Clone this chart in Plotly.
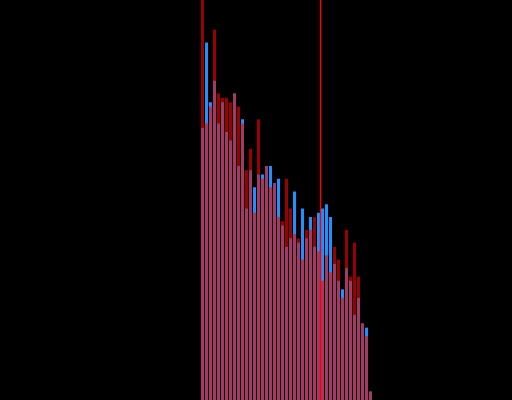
import plotly.graph_objects as go

bins = list(range(43))
blue_counts = [64, 84, 70, 75, 65, 70, 63, 61, 72, 55, 66, 45, 54, 50, 53, 53, 55, 55, 51, 52,
               41, 36, 38, 49, 37, 45, 38, 43, 36, 44, 45, 46, 43, 32, 28, 26, 31, 28, 20, 24,
               18, 17, 2]
red_counts = [94, 65, 69, 87, 72, 71, 71, 70, 72, 69, 65, 54, 59, 44, 66, 52, 55, 50, 51, 43,
              42, 52, 45, 39, 38, 33, 40, 40, 43, 35, 28, 34, 30, 36, 33, 24, 40, 29, 37, 29,
              18, 15, 2]
mean_line_x = 29.5

fig = go.Figure()
fig.add_trace(go.Bar(x=bins, y=blue_counts, width=0.75,
                     marker=dict(color="#1e90ff", line=dict(width=0))))
fig.add_trace(go.Bar(x=bins, y=red_counts, width=0.75, opacity=0.6,
                     marker=dict(color="#ff0000", line=dict(width=0))))
fig.add_vline(x=mean_line_x, line=dict(color="#ff0000", width=1.5))

fig.update_layout(
    width=512, height=400,
    margin=dict(l=0, r=0, t=0, b=0),
    barmode="overlay",
    showlegend=False,
    paper_bgcolor="black",
    plot_bgcolor="black",
    xaxis=dict(range=[-50.625, 77.375], visible=False),
    yaxis=dict(range=[0, 94], visible=False),
)
fig.write_html(
    "out.html",
    config={"displayModeBar": False},
    post_script="document.body.style.margin='0';document.body.style.padding='0';"
                "document.body.style.background='black';document.body.style.overflow='hidden';",
)
